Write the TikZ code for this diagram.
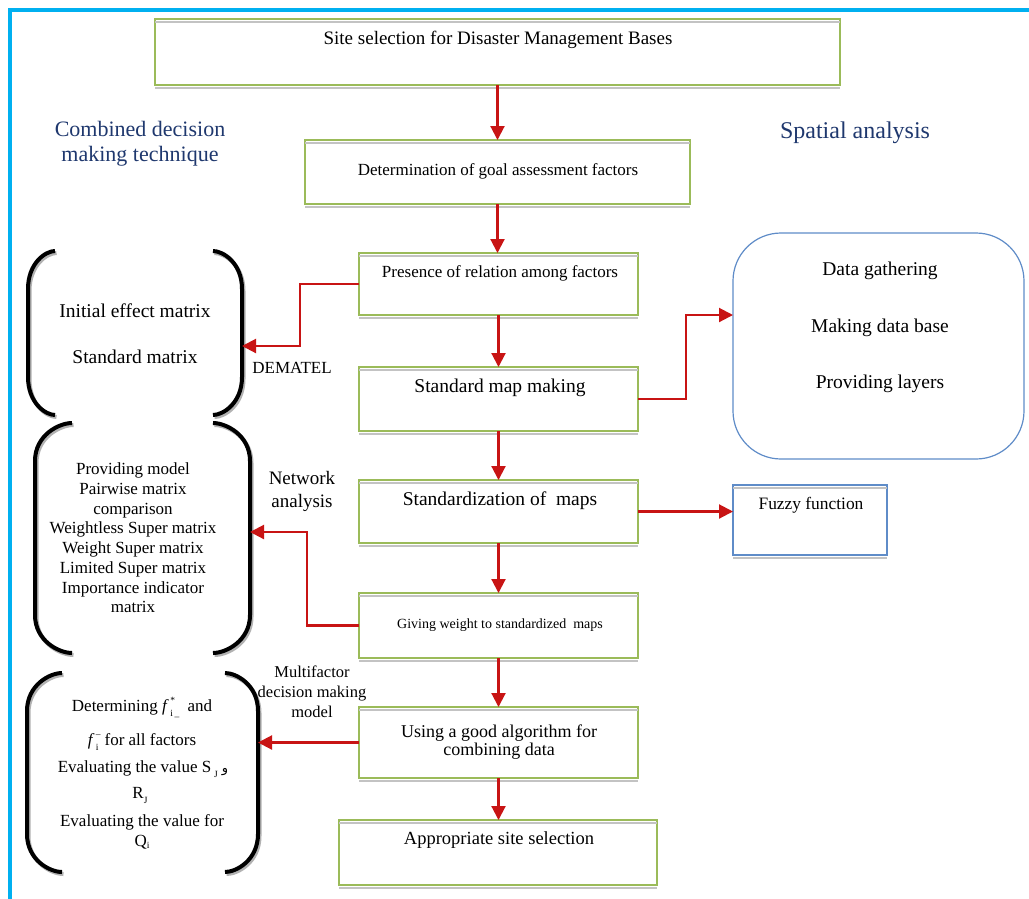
\documentclass[tikz,border=0pt]{standalone}
\usepackage{fontspec}
\setmainfont{Liberation Serif}
\newfontfamily\arabicfont[Script=Arabic]{DejaVu Sans}
\TeXXeTstate=1
\usetikzlibrary{arrows.meta,backgrounds}
\definecolor{boxgreen}{RGB}{155,187,89}
\definecolor{shadowgray}{RGB}{195,195,195}
\definecolor{arrowred}{RGB}{200,20,20}
\definecolor{boxblue}{RGB}{95,140,200}
\definecolor{headblue}{RGB}{31,56,110}
\definecolor{framecyan}{RGB}{0,176,240}
\newcommand\fsz[2]{\fontsize{#1}{#2}\selectfont}
\newcommand\supsub[2]{\smash{\begingroup\fontsize{9.5}{10}\selectfont\makebox[0pt][l]{\raisebox{7.8pt}{#1}}\raisebox{-5.2pt}{#2}\endgroup}}
% bracket: #1 outer x, #2 end x, #3 top y, #4 bottom y
\newcommand\brk[4]{%
\draw[brkshadow] (#2+1.5,#3+2) .. controls ({#1+1.5+0.65*(#2-#1)},#3+2) and (#1+1.5,#3+14) .. (#1+1.5,#3+40) -- (#1+1.5,#4-36) .. controls (#1+1.5,#4-10) and ({#1+1.5+0.65*(#2-#1)},#4+2) .. (#2+1.5,#4+2);
\draw[brkline] (#2,#3) .. controls ({#1+0.65*(#2-#1)},#3) and (#1,#3+12) .. (#1,#3+38) -- (#1,#4-38) .. controls (#1,#4-12) and ({#1+0.65*(#2-#1)},#4) .. (#2,#4);}
\begin{document}
\begin{tikzpicture}[x=1pt,y=-1pt,
  gbox/.style={draw=boxgreen, line width=1.3pt, rectangle, inner sep=0pt, outer sep=0pt},
  bbox/.style={draw=boxblue, line width=1.2pt, rectangle, inner sep=0pt, outer sep=0pt},
  txt/.style={inner sep=0pt, align=center, text=black},
  head/.style={inner sep=0pt, align=center, text=headblue},
  redarrow/.style={draw=arrowred, line width=2.1pt, -{Triangle[length=14pt,width=14pt]}},
  brkline/.style={draw=black, line width=4pt},
  brkshadow/.style={draw=black!30, line width=4pt},
  shadowline/.style={draw=shadowgray, line width=1.6pt}]
\useasboundingbox (0,0) rectangle (1029,898);
\clip (0,0) rectangle (1029,898);
\fill[white] (0,0) rectangle (1029,898);
\draw[framecyan, line width=3.2pt] (10,10) rectangle (1070,940);

% main flow boxes
\node[gbox, minimum width=685pt, minimum height=66pt] (b1) at (497.5,52) {};
\node[gbox, minimum width=385pt, minimum height=64pt] (b2) at (497.5,172) {};
\node[gbox, minimum width=279pt, minimum height=62pt] (b3) at (498.5,284) {};
\node[gbox, minimum width=279pt, minimum height=64pt] (b4) at (498.5,399) {};
\node[gbox, minimum width=279pt, minimum height=63pt] (b5) at (498.5,511.5) {};
\node[gbox, minimum width=279pt, minimum height=65pt] (b6) at (498.5,625.5) {};
\node[gbox, minimum width=279pt, minimum height=71pt] (b7) at (498.5,742.5) {};
\node[gbox, minimum width=318pt, minimum height=65pt] (b8) at (498,852.5) {};
\node[bbox, minimum width=154pt, minimum height=70pt] (fz) at (810,520) {};
\node[bbox, rounded corners=48pt, minimum width=291pt, minimum height=226pt] (rb) at (878.5,346) {};

% shadow lines
\foreach \n in {b1,b2,b3,b4,b5,b6,b7,b8,fz}{
  \draw[shadowline] ([yshift=-3pt]\n.north west) -- ([yshift=-3pt]\n.north east);
  \draw[shadowline] ([yshift=-3pt]\n.south west) -- ([yshift=-3pt]\n.south east);
}
\begin{scope}[on background layer]
  \draw[shadowgray, line width=1.6pt, rounded corners=48pt] (733,236) rectangle (1024,462);
\end{scope}

% box texts
\node[txt, font=\fsz{19}{22}] (t1) at (498,40) {Site selection for Disaster Management Bases};
\node[txt, font=\fsz{17}{20}] (t2) at (498,171) {Determination of goal assessment factors};
\node[txt, font=\fsz{17}{20}] (t3) at (500,273) {Presence of relation among factors};
\node[txt, font=\fsz{19.5}{22}] (t4) at (500,388) {Standard map making};
\node[txt, font=\fsz{19.5}{22}] (t5) at (500,501) {Standardization of \ maps};
\node[txt, font=\fsz{14}{16}] (t6) at (500,625) {Giving weight to standardized \ maps};
\node[txt, font=\fsz{18}{18}] (t7) at (499,742) {Using a good algorithm for\\combining data};
\node[txt, font=\fsz{18.5}{20}] (t8) at (499,840) {Appropriate site selection};
\node[txt, font=\fsz{17.4}{20}] (tf) at (811,505) {Fuzzy function};
\node[txt, font=\fsz{19.5}{22}] (r1) at (880,271) {Data gathering};
\node[txt, font=\fsz{19.5}{22}] (r2) at (880,328) {Making data base};
\node[txt, font=\fsz{19.5}{22}] (r3) at (880,384) {Providing layers};

% headings
\node[head, font=\fsz{22}{25}] (h1) at (140,144) {Combined decision\\making technique};
\node[head, font=\fsz{24}{26}] (h2) at (855,133) {Spatial analysis};

% vertical flow arrows
\draw[redarrow] (b1.south) -- (b1.south |- b2.north);
\draw[redarrow] (b2.south) -- (b2.south |- b3.north);
\draw[redarrow] (b3.south) -- (b3.south |- b4.north);
\draw[redarrow] (b4.south) -- (b4.south |- b5.north);
\draw[redarrow] (b5.south) -- (b5.south |- b6.north);
\draw[redarrow] (b6.south) -- (b6.south |- b7.north);
\draw[redarrow] (b7.south) -- (b7.south |- b8.north);

% brackets
\brk{28}{55}{251}{415}
\brk{242}{213}{251}{415}
\brk{35}{72}{423}{653}
\brk{250}{213}{423}{653}
\brk{27}{62}{673}{872}
\brk{258}{225}{673}{872}
\coordinate (br1) at (242,346);
\coordinate (br2) at (250,532);
\coordinate (br3) at (258,742.5);
\coordinate (k1) at (300,346);
\coordinate (k2) at (307,532);
\coordinate (k3) at (686,315);
\coordinate (rbin) at (733,315);

% side connectors
\draw[redarrow] (b3.west) -| (k1) -- (br1);
\draw[redarrow] (b6.west) -| (k2) -- (br2);
\draw[redarrow] (b7.west) -- (br3);
\draw[redarrow] (b4.east) -| (k3) -- (rbin);
\draw[redarrow] (b5.east) -- (b5.east -| fz.west);

% connector labels
\node[txt, font=\fsz{17}{20}] (l1) at (292,368) {DEMATEL};
\node[txt, font=\fsz{19}{23}] (l2) at (302,491) {Network\\analysis};
\node[txt, font=\fsz{16.5}{20}] (l3) at (312,692) {Multifactor\\decision making\\model};

% bracket texts
\node[txt, font=\fsz{19.5}{22}] (a1) at (135,311) {Initial effect matrix};
\node[txt, font=\fsz{19.5}{22}] (a2) at (135,357) {Standard matrix};
\node[txt, font=\fsz{17}{19.7}] (n1) at (133,538) {Providing model\\Pairwise matrix\\comparison\\Weightless Super matrix\\Weight Super matrix\\Limited Super matrix\\Importance indicator\\matrix};
\node[txt, font=\fsz{17}{20}, anchor=base] (m1) at (142,711) {Determining \textit{f}\/\hspace{1.5pt}\supsub{*}{i\,\_}\hspace{4pt} and};
\node[txt, font=\fsz{17}{20}, anchor=base] (m2) at (142,745) {\textit{f}\/\hspace{1.5pt}\supsub{\textendash}{i}\hspace{6pt}for all factors};
\node[txt, font=\fsz{17}{20}, anchor=base] (m3) at (143,772) {Evaluating the value S\hspace{3pt}\supsub{}{J}\hspace{4pt}{\arabicfont\fontsize{13}{13}\selectfont\beginR و\endR}};
\node[txt, font=\fsz{17}{20}, anchor=base] (m4) at (140,798) {R\supsub{}{J}};
\node[txt, font=\fsz{17}{20}, anchor=base] (m5) at (142,826) {Evaluating the value for};
\node[txt, font=\fsz{17}{20}, anchor=base] (m6) at (142,846) {Q\supsub{}{\raisebox{3pt}{i}}};
\end{tikzpicture}
\end{document}
